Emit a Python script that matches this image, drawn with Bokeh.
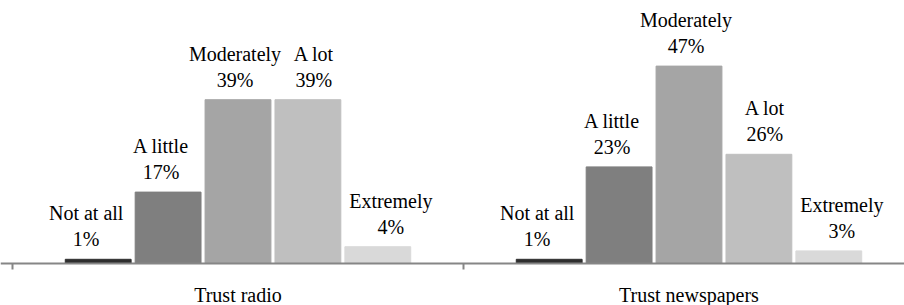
from bokeh.plotting import figure
from bokeh.models import ColumnDataSource, Range1d, Span
from bokeh.embed import file_html
from bokeh.resources import INLINE
from bokeh.core.properties import value

# ---- data ----
groups = ["Trust radio", "Trust newspapers"]
levels = ["Not at all", "A little", "Moderately", "A lot", "Extremely"]
radio = [1, 17, 39, 39, 4]
newspapers = [1, 23, 47, 26, 3]

# ---- styles ----
colors = ["#2f2f2f", "#7f7f7f", "#a5a5a5", "#bfbfbf", "#d9d9d9"]
label_nudge = {"Not at all": -12, "A little": -7, "Moderately": -3, "A lot": 6, "Extremely": 13}
FONT = "Liberation Serif"
FS = "20px"
PX_PER_PCT = 4.2
GROUP_PX = 451
pitch = 0.155
bar_w = 0.146
AXIS_GRAY = "#868686"

xs, tops, cols, names, pcts, dx = [], [], [], [], [], []
for gi, vals in enumerate([radio, newspapers]):
    for k, (lev, v) in enumerate(zip(levels, vals)):
        xs.append(gi + 0.5 + (k - 2) * pitch)
        tops.append(v)
        cols.append(colors[k])
        names.append(lev)
        pcts.append(f"{v}%")
        dx.append(label_nudge.get(lev, 0))

src = ColumnDataSource(dict(x=xs, top=tops, color=cols, name=names, pct=pcts, dx=dx))

W, H = 904, 305
axis_y = 263   # px from top of figure
left_px = 12   # px of first group boundary
p = figure(width=W, height=H, output_backend="svg", toolbar_location=None,
           x_range=Range1d(-left_px / GROUP_PX, (W - left_px) / GROUP_PX),
           y_range=Range1d(-(H - axis_y) / PX_PER_PCT, axis_y / PX_PER_PCT),
           min_border_left=0, min_border_right=0, min_border_top=0, min_border_bottom=0)

p.vbar(x="x", top="top", bottom=0, width=bar_w, color="color", source=src)

p.text(x="x", y="top", text="pct", source=src, x_offset="dx", y_offset=-20,
       text_align="center", text_baseline="alphabetic",
       text_font=value(FONT), text_font_size=FS, text_color="black")
p.text(x="x", y="top", text="name", source=src, x_offset="dx", y_offset=-46,
       text_align="center", text_baseline="alphabetic",
       text_font=value(FONT), text_font_size=FS, text_color="black")

# category axis drawn by hand: baseline, group boundary ticks, group names
p.add_layout(Span(location=0, dimension="width", line_color=AXIS_GRAY, line_width=2))
bounds = list(range(len(groups)))
p.segment(x0=bounds, y0=[0] * len(bounds), x1=bounds, y1=[-6 / PX_PER_PCT] * len(bounds),
          line_color=AXIS_GRAY, line_width=2)
p.text(x=[g + 0.5 for g in range(len(groups))], y=[0] * len(groups), text=groups,
       y_offset=31, text_align="center", text_baseline="alphabetic",
       text_font=value(FONT), text_font_size=FS, text_color="black")

p.xaxis.visible = False
p.yaxis.visible = False
p.xgrid.visible = False
p.ygrid.visible = False
p.outline_line_color = None

open("out.html", "w").write(file_html(p, INLINE))
